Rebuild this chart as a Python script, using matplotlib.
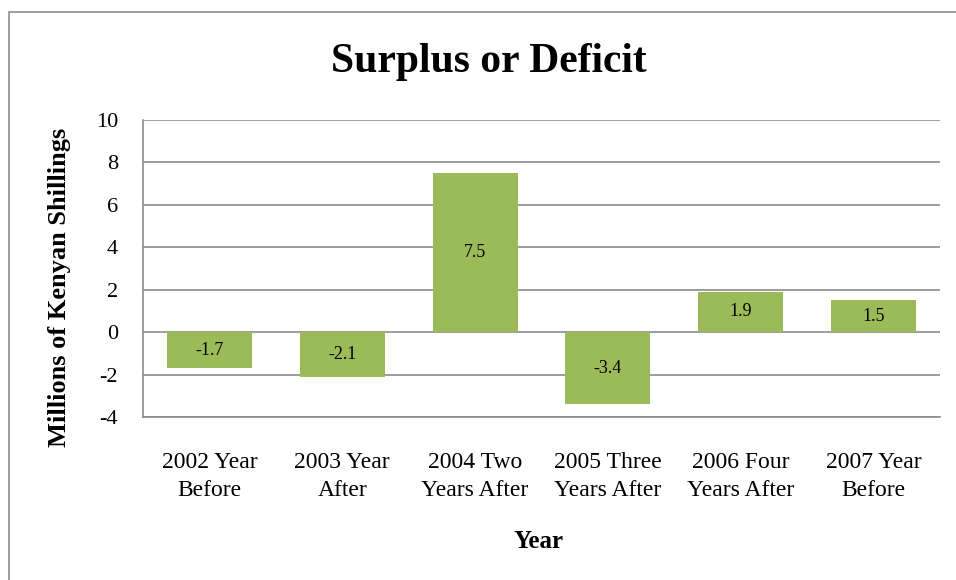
import matplotlib.pyplot as plt
from matplotlib.patches import Rectangle

categories = ['2002 Year\nBefore', '2003 Year\nAfter', '2004 Two\nYears After',
              '2005 Three\nYears After', '2006 Four\nYears After', '2007 Year\nBefore']
values = [-1.7, -2.1, 7.5, -3.4, 1.9, 1.5]
yticks = [-4, -2, 0, 2, 4, 6, 8, 10]

plt.rcParams['font.family'] = ['Liberation Serif', 'DejaVu Serif']

fig = plt.figure(figsize=(9.56, 5.8), dpi=100)
fig.patch.set_facecolor('white')

# outer chart border (cut off at right and bottom as in the screenshot)
fig.patches.append(Rectangle((9 / 956, -0.1), 1.2, 1 - 12 / 580 + 0.1,
                             transform=fig.transFigure, fill=False,
                             edgecolor='#8c8c8c', linewidth=1.2))

ax = fig.add_axes([143 / 956, 1 - 417 / 580, (940 - 143) / 956, (417 - 120) / 580])

x = range(len(categories))
bars = ax.bar(x, values, width=0.64, color='#9BBB59', zorder=3)
for b, v in zip(bars, values):
    ax.text(b.get_x() + b.get_width() / 2, v / 2, f'{v:.1f}',
            ha='center', va='center', fontsize=13, zorder=4)

ax.set_ylim(-4, 10)
ax.set_xlim(-0.5, len(categories) - 0.5)
ax.set_yticks(yticks)
ax.set_yticklabels([str(t) for t in yticks], fontsize=16)
ax.set_xticks(list(x))
ax.set_xticklabels(categories, fontsize=17, linespacing=1.45)
ax.tick_params(axis='both', length=0)
ax.tick_params(axis='y', pad=18)
ax.tick_params(axis='x', pad=25)
ax.yaxis.grid(True, color='#8c8c8c', linewidth=1.2, zorder=0)

for s in ['top', 'right']:
    ax.spines[s].set_visible(False)
for s in ['left', 'bottom']:
    ax.spines[s].set_color('#8c8c8c')
    ax.spines[s].set_linewidth(1.2)

fig.text(489 / 956, 1 - 62 / 580, 'Surplus or Deficit', ha='center', va='center',
         fontsize=30, fontweight='bold')
fig.text(539 / 956, 1 - 541 / 580, 'Year', ha='center', va='center',
         fontsize=18, fontweight='bold')
fig.text(60 / 956, 1 - 287 / 580, 'Millions of Kenyan Shillings', ha='center',
         va='center', rotation=90, fontsize=19, fontweight='bold')

fig.savefig('out.png', dpi=100)
